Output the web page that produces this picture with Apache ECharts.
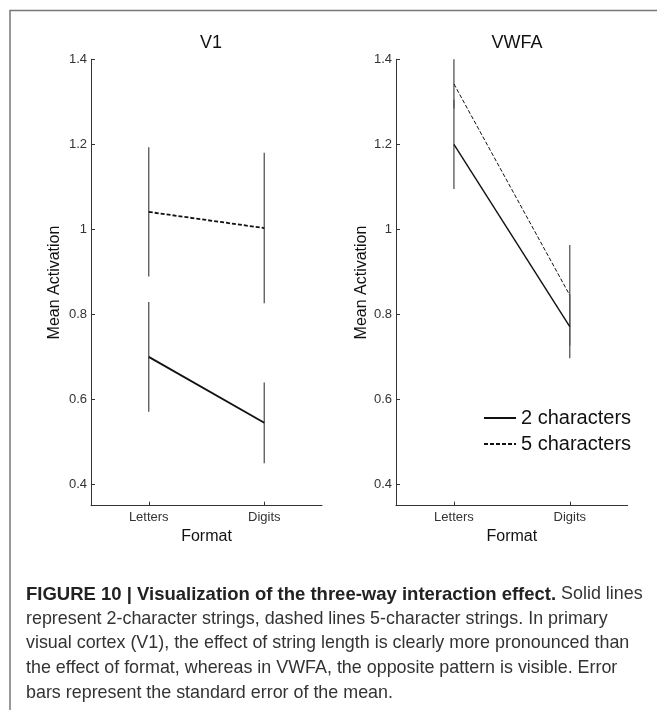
<!DOCTYPE html>
<html>
<head>
<meta charset="utf-8">
<script src="https://cdn.jsdelivr.net/npm/echarts@6/dist/echarts.min.js"></script>
<style>
html,body{margin:0;padding:0;background:#fff;}
#main{width:657px;height:710px;}
</style>
</head>
<body>
<div id="main"></div>
<script>
// ---- data ----
const categories = ['Letters', 'Digits'];
const xPos = [1, 2];
const panelTitles = ['V1', 'VWFA'];
const seriesNames = ['2 characters', '5 characters'];
const yTicks = [0.4, 0.6, 0.8, 1.0, 1.2, 1.4];

const v1Two = [0.700, 0.545];
const v1TwoErr = [0.129, 0.095];
const v1Five = [1.041, 1.003];
const v1FiveErr = [0.152, 0.177];

const vwfaTwo = [1.200, 0.771];
const vwfaTwoErr = [0.105, 0.074];
const vwfaFive = [1.342, 0.845];
const vwfaFiveErr = [0.058, 0.118];

const captionLines = [
  ['FIGURE 10 | Visualization of the three-way interaction effect.', ' Solid lines'],
  ['', 'represent 2-character strings, dashed lines 5-character strings. In primary'],
  ['', 'visual cortex (V1), the effect of string length is clearly more pronounced than'],
  ['', 'the effect of format, whereas in VWFA, the opposite pattern is visible. Error'],
  ['', 'bars represent the standard error of the mean.']
];

// ---- chart ----
const chart = echarts.init(document.getElementById('main'), null, {renderer: 'canvas'});
const FONT = '"Liberation Sans", Arial, Helvetica, sans-serif';
const axisCol = '#333';

function pts(vals) { return vals.map((v, i) => [xPos[i], v]); }
function errPts(vals, errs) { return vals.map((v, i) => [xPos[i], v - errs[i], v + errs[i]]); }

function xAxis(idx) {
  return {
    type: 'value', gridIndex: idx, min: 0.5, max: 2.5,
    splitLine: {show: false},
    axisLine: {show: true, lineStyle: {color: axisCol, width: 1}},
    axisTick: {show: true, inside: true, length: 4, customValues: xPos, lineStyle: {color: axisCol}},
    axisLabel: {show: true, customValues: xPos, margin: 5, fontSize: 13, color: '#333', fontFamily: FONT,
      formatter: v => categories[xPos.indexOf(Math.round(v))] || ''},
    name: 'Format', nameLocation: 'middle', nameGap: 21,
    nameTextStyle: {fontSize: 16, color: '#111', fontFamily: FONT}
  };
}
function yAxis(idx) {
  return {
    type: 'value', gridIndex: idx, min: 0.35, max: 1.4,
    splitLine: {show: false},
    axisLine: {show: true, lineStyle: {color: axisCol, width: 1}},
    axisTick: {show: true, inside: true, length: 4, customValues: yTicks, lineStyle: {color: axisCol}},
    axisLabel: {show: true, customValues: yTicks, margin: 4, fontSize: 13, color: '#333', fontFamily: FONT,
      formatter: v => String(Math.round(v * 10) / 10)},
    name: 'Mean Activation', nameLocation: 'middle', nameGap: idx === 0 ? 28 : 26, nameRotate: 90,
    nameTextStyle: {fontSize: 16, color: '#111', fontFamily: FONT}
  };
}

function errSeries(idx, data) {
  return {
    type: 'custom', xAxisIndex: idx, yAxisIndex: idx, z: 2, silent: true,
    data: data,
    renderItem: function (params, api) {
      const p1 = api.coord([api.value(0), api.value(1)]);
      const p2 = api.coord([api.value(0), api.value(2)]);
      return {type: 'line', shape: {x1: p1[0], y1: p1[1], x2: p2[0], y2: p2[1]},
        style: {stroke: '#555', lineWidth: 1.3}};
    }
  };
}
function lineSeries(idx, name, data, dashed, w) {
  return {
    type: 'line', name: name, xAxisIndex: idx, yAxisIndex: idx, z: 3,
    data: data, symbol: 'none', silent: true, animation: false,
    lineStyle: {color: '#111', width: w, type: dashed ? [4, 2] : 'solid'},
    itemStyle: {color: '#111'}
  };
}

const captionGraphics = captionLines.map((ln, i) => ({
  type: 'text', left: 26, top: 585 + i * 24.7,
  style: {
    text: (ln[0] ? '{b|' + ln[0] + '}' : '') + '{r|' + ln[1] + '}',
    rich: {
      b: {fontSize: 18.5, fontWeight: 'bold', fill: '#222', fontFamily: FONT},
      r: {fontSize: 17.9, fill: '#333', fontFamily: FONT}
    }
  }
}));

const option = {
  animation: false,
  backgroundColor: '#fff',
  title: [
    {text: panelTitles[0], left: 206, top: 29, textAlign: 'center',
      textStyle: {fontSize: 18, fontWeight: 'normal', color: '#111', fontFamily: FONT}},
    {text: panelTitles[1], left: 512, top: 29, textAlign: 'center',
      textStyle: {fontSize: 18, fontWeight: 'normal', color: '#111', fontFamily: FONT}}
  ],
  grid: [
    {left: 91, top: 59.3, width: 231, height: 446.4},
    {left: 396, top: 59.3, width: 231.7, height: 446.4}
  ],
  xAxis: [xAxis(0), xAxis(1)],
  yAxis: [yAxis(0), yAxis(1)],
  legend: {
    data: seriesNames, orient: 'vertical', left: 483, top: 407, padding: 0,
    itemWidth: 32, itemHeight: 14, itemGap: 4, selectedMode: false,
    itemStyle: {opacity: 0},
    textStyle: {fontSize: 20, color: '#111', fontFamily: FONT, lineHeight: 22}
  },
  series: [
    errSeries(0, errPts(v1Two, v1TwoErr)),
    errSeries(0, errPts(v1Five, v1FiveErr)),
    errSeries(1, errPts(vwfaTwo, vwfaTwoErr)),
    errSeries(1, errPts(vwfaFive, vwfaFiveErr)),
    lineSeries(0, seriesNames[0], pts(v1Two), false, 1.8),
    lineSeries(0, seriesNames[1], pts(v1Five), true, 1.8),
    lineSeries(1, seriesNames[0], pts(vwfaTwo), false, 1.4),
    lineSeries(1, seriesNames[1], pts(vwfaFive), true, 1.0)
  ],
  graphic: [
    {type: 'polyline', shape: {points: [[10, 710], [10, 10.5], [657, 10.5]]},
      style: {stroke: '#777', lineWidth: 1.5, fill: null}}
  ].concat(captionGraphics)
};
chart.setOption(option);
</script>
</body>
</html>
